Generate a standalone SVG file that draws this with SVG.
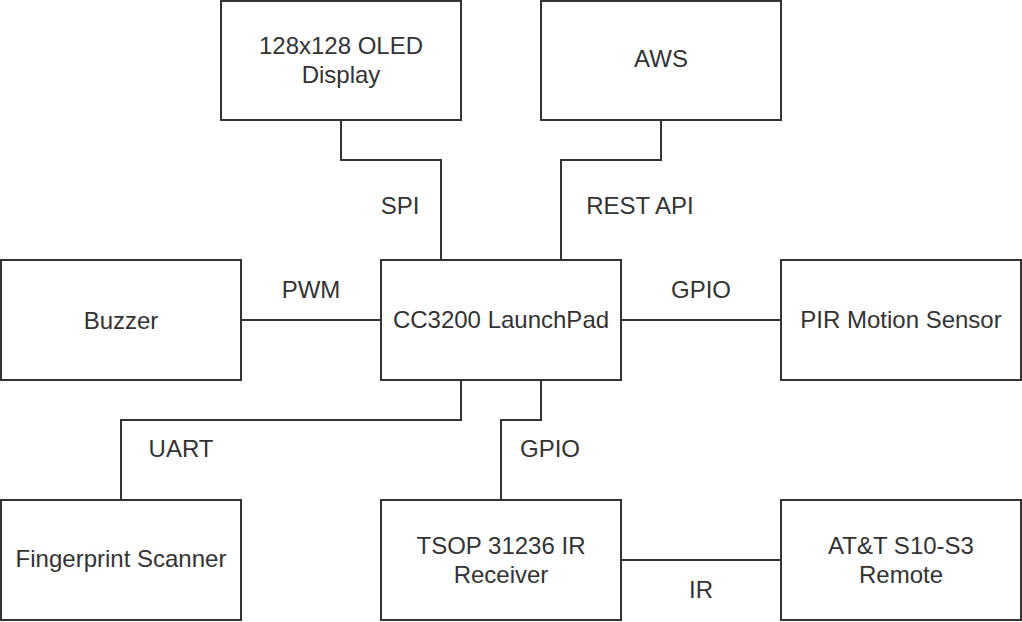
<svg xmlns="http://www.w3.org/2000/svg" width="1022" height="622" viewBox="0 0 1022 622">
<style>
.box{fill:#ffffff;stroke:#333333;stroke-width:2}
.t{font-family:"Liberation Sans",Arial,sans-serif;font-size:24px;fill:#333333;text-anchor:middle;dominant-baseline:central}
.c{fill:none;stroke:#333333;stroke-width:2}
</style>
<rect width="1022" height="622" fill="#ffffff"/>
<g id="connectors">
<polyline class="c" points="341,120 341,160 441,160 441,260"/>
<polyline class="c" points="661,120 661,160 561,160 561,260"/>
<line class="c" x1="241" y1="320" x2="381" y2="320"/>
<line class="c" x1="621" y1="320" x2="781" y2="320"/>
<polyline class="c" points="461,380 461,420 121,420 121,500"/>
<polyline class="c" points="541,380 541,420 501,420 501,500"/>
<line class="c" x1="621" y1="560" x2="781" y2="560"/>
<text class="t" x="400" y="205">SPI</text>
<text class="t" x="640" y="205">REST API</text>
<text class="t" x="311" y="289">PWM</text>
<text class="t" x="701" y="289">GPIO</text>
<text class="t" x="181" y="448">UART</text>
<text class="t" x="550" y="448">GPIO</text>
<text class="t" x="701" y="589">IR</text>
</g>
<g id="oled"><rect class="box" x="221" y="1" width="240" height="119"/><text class="t" x="341" y="45">128x128 OLED</text><text class="t" x="341" y="74">Display</text></g>
<g id="aws"><rect class="box" x="541" y="1" width="240" height="119"/><text class="t" x="661" y="58">AWS</text></g>
<g id="buzzer"><rect class="box" x="1" y="260" width="240" height="120"/><text class="t" x="121" y="320">Buzzer</text></g>
<g id="cc3200"><rect class="box" x="381" y="260" width="240" height="120"/><text class="t" x="501" y="319">CC3200 LaunchPad</text></g>
<g id="pir"><rect class="box" x="781" y="260" width="240" height="120"/><text class="t" x="901" y="319">PIR Motion Sensor</text></g>
<g id="fingerprint"><rect class="box" x="1" y="500" width="240" height="120"/><text class="t" x="121" y="558">Fingerprint Scanner</text></g>
<g id="tsop"><rect class="box" x="381" y="500" width="240" height="120"/><text class="t" x="501" y="545">TSOP 31236 IR</text><text class="t" x="501" y="574">Receiver</text></g>
<g id="remote"><rect class="box" x="781" y="500" width="240" height="120"/><text class="t" x="901" y="545">AT&amp;T S10-S3</text><text class="t" x="901" y="574">Remote</text></g>
</svg>
